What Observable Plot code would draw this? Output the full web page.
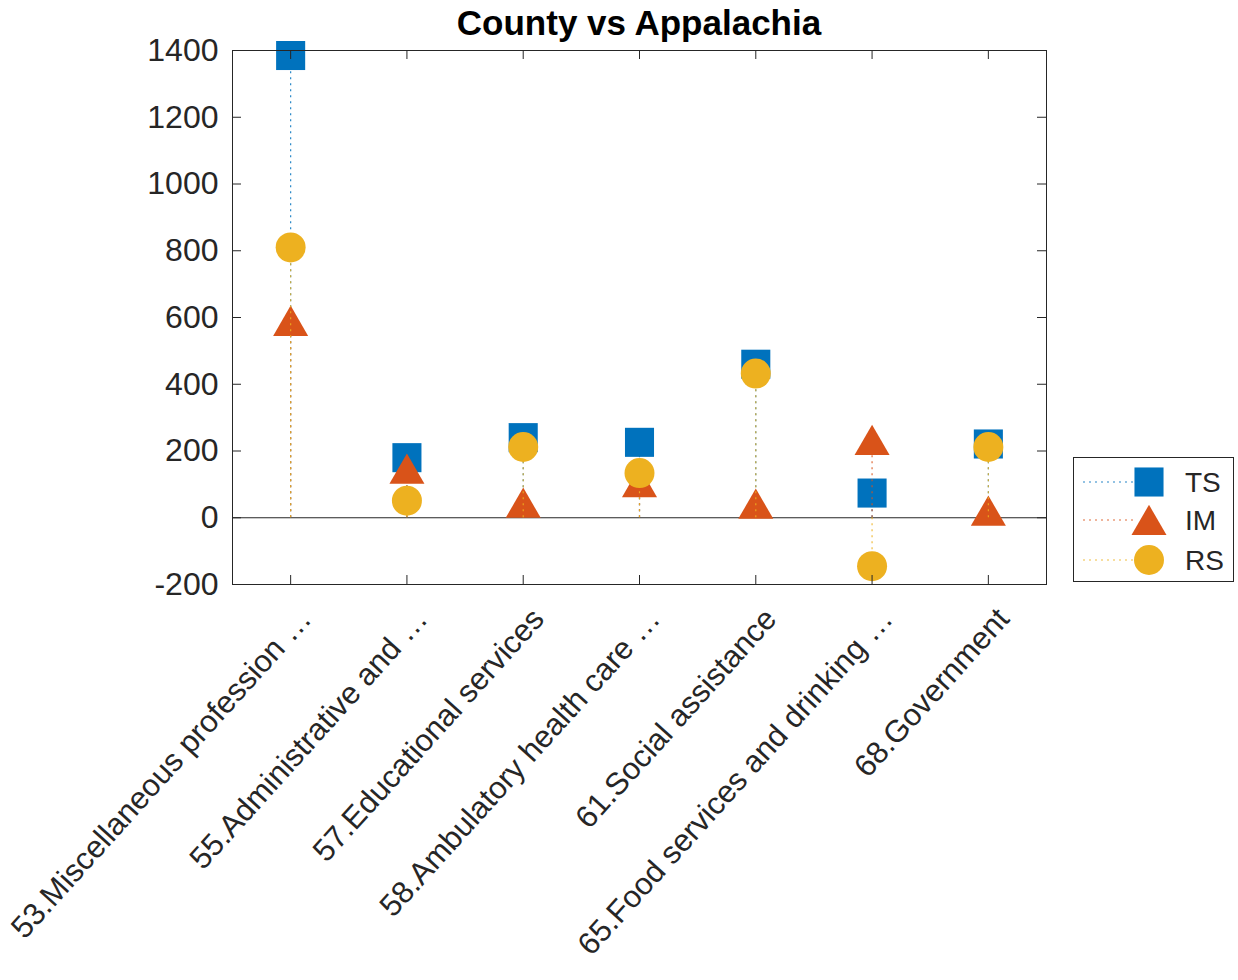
<!DOCTYPE html>
<html><head><meta charset="utf-8">
<script src="https://cdn.jsdelivr.net/npm/d3@7"></script>
<script src="https://cdn.jsdelivr.net/npm/@observablehq/plot@0.6"></script>
<style>
body{margin:0;background:#fff;}
#wrap{position:relative;width:1238px;height:980px;font-family:"Liberation Sans",Arial,sans-serif;}
#title{height:40px;box-sizing:border-box;padding-top:6px;line-height:34px;font-size:35px;font-weight:bold;text-align:center;width:814px;margin-left:232px;color:#000;}
#legend{position:absolute;left:1073px;top:457px;width:161px;height:125px;box-sizing:border-box;border:1px solid #262626;background:#fff;}
#legend svg{display:block;}
</style></head><body>
<div id="wrap"><div id="title">County vs Appalachia</div><div id="chart"></div><div id="legend"></div></div>
<script>
const categories = [
  "53.Miscellaneous profession \u2026",
  "55.Administrative and \u2026",
  "57.Educational services",
  "58.Ambulatory health care \u2026",
  "61.Social assistance",
  "65.Food services and drinking \u2026",
  "68.Government"
];
const seriesNames = ["TS", "IM", "RS"];
const TS = [1385, 180, 240, 226, 460, 74, 221];
const IM = [590, 147, 45, 107, 42, 233, 21];
const RS = [810, 51, 212, 134, 432, -145, 212];
const yTicks = [-200, 0, 200, 400, 600, 800, 1000, 1200, 1400];
const colors = ["#0072BD", "#D95319", "#EDB120"];
const symbols = ["square", "triangle", "circle"];
const radii = [16.4, 13, 15];
const symDy = [0, 5, 0];

const seriesValues = [TS, IM, RS];
const xIdx = categories.map((c, i) => i + 1);
const W = 1238, H = 940, mL = 232, mR = 192, mT = 10, mB = 396;
const pw = W - mL - mR, ph = H - mT - mB, tick = 9;
const axisColor = "#262626";

const marks = [
  Plot.ruleY([0], {stroke: axisColor, strokeWidth: 1})
];
seriesValues.forEach((vals, k) => {
  const rows = vals.map((v, i) => ({i: i + 1, v, s: seriesNames[k]}));
  marks.push(Plot.ruleX(rows, {x: "i", y1: 0, y2: "v", stroke: colors[k], strokeWidth: 1.2, strokeDasharray: "2,4", strokeOpacity: 0.85}));
  marks.push(Plot.dot(rows, {x: "i", y: "v", symbol: symbols[k], r: radii[k], fill: colors[k], stroke: null, dy: symDy[k]}));
});
marks.push(
  Plot.frame({stroke: axisColor, strokeWidth: 1}),
  Plot.tickY(yTicks, {y: d => d, insetRight: pw - tick, stroke: axisColor}),
  Plot.tickY(yTicks, {y: d => d, insetLeft: pw - tick, stroke: axisColor}),
  Plot.tickX(xIdx, {x: d => d, insetBottom: ph - tick, stroke: axisColor}),
  Plot.tickX(xIdx, {x: d => d, insetTop: ph - tick, stroke: axisColor}),
  Plot.axisY({ticks: yTicks, tickSize: 0, tickPadding: 14, tickFormat: d => String(d), fontSize: 32, color: axisColor, label: null}),
  Plot.text(categories.map((c, i) => ({i: i + 1, c})), {x: "i", text: "c", frameAnchor: "bottom", rotate: -48, textAnchor: "end", lineAnchor: "middle", dx: 15, dy: 29, fontSize: 31, fill: axisColor})
);

const chart = Plot.plot({
  width: W, height: H,
  marginLeft: mL, marginRight: mR, marginTop: mT, marginBottom: mB,
  x: {domain: [0.5, 7.5], axis: null},
  y: {domain: [-200, 1400], axis: null},
  style: {fontFamily: "'Liberation Sans', Arial, sans-serif", background: "white", overflow: "visible"},
  marks
});
document.getElementById("chart").appendChild(chart);

// legend
const lg = d3.select("#legend").append("svg").attr("width", 159).attr("height", 123);
const rowY = [24, 62, 102];
seriesNames.forEach((name, k) => {
  const g = lg.append("g").attr("transform", `translate(0,${rowY[k]})`);
  g.append("line").attr("x1", 9).attr("x2", 62).attr("y1", 0).attr("y2", 0)
    .attr("stroke", colors[k]).attr("stroke-width", 1.2).attr("stroke-dasharray", "2,4").attr("stroke-opacity", 0.85);
  const symType = {square: d3.symbolSquare, triangle: d3.symbolTriangle, circle: d3.symbolCircle}[symbols[k]];
  g.append("path").attr("d", d3.symbol(symType, Math.PI * radii[k] * radii[k])())
    .attr("transform", `translate(75,${symDy[k]})`).attr("fill", colors[k]);
  g.append("text").attr("x", 111).attr("y", 0).attr("dy", "0.35em").attr("font-size", 28)
    .attr("font-family", "'Liberation Sans', Arial, sans-serif").attr("fill", axisColor).text(name);
});
</script>
</body></html>
